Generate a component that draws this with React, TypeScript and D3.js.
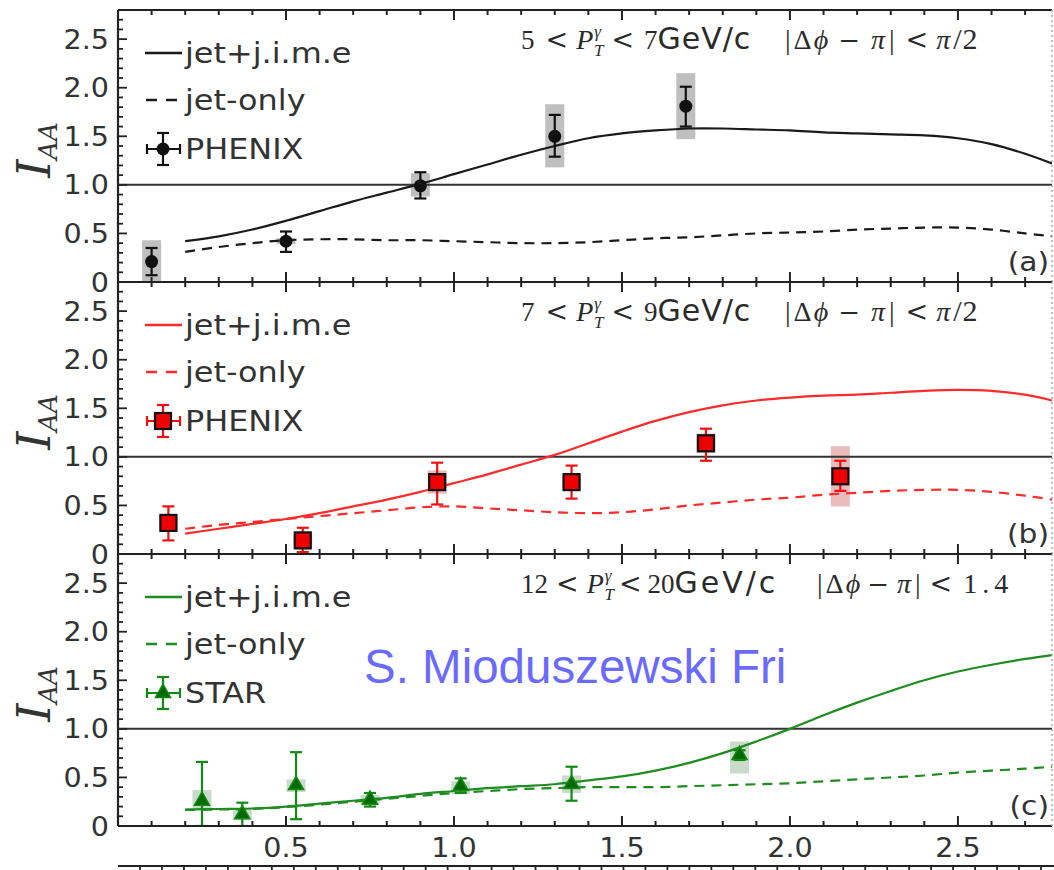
import React, { useEffect, useRef } from 'react';
import * as d3 from 'd3';

// model curves, sampled on a common x grid
const curveX = [0.2, 0.3, 0.4, 0.5, 0.6, 0.7, 0.8, 0.9, 1.0, 1.1, 1.2, 1.3, 1.4, 1.5, 1.6, 1.7, 1.8, 1.9, 2.0, 2.1, 2.2, 2.3, 2.4, 2.5, 2.6, 2.7, 2.78];

const aJime = [0.42, 0.47, 0.54, 0.63, 0.73, 0.83, 0.92, 1.01, 1.11, 1.21, 1.31, 1.40, 1.48, 1.53, 1.56, 1.58, 1.58, 1.57, 1.56, 1.54, 1.53, 1.52, 1.51, 1.48, 1.42, 1.32, 1.22];
const aJetOnly = [0.31, 0.36, 0.40, 0.43, 0.44, 0.44, 0.43, 0.43, 0.42, 0.41, 0.40, 0.40, 0.41, 0.43, 0.45, 0.46, 0.48, 0.50, 0.51, 0.52, 0.54, 0.55, 0.56, 0.56, 0.54, 0.50, 0.47];
const bJime = [0.21, 0.26, 0.31, 0.36, 0.42, 0.49, 0.56, 0.64, 0.73, 0.82, 0.92, 1.02, 1.14, 1.26, 1.37, 1.46, 1.53, 1.58, 1.61, 1.63, 1.64, 1.66, 1.68, 1.69, 1.68, 1.64, 1.58];
const bJetOnly = [0.26, 0.30, 0.33, 0.36, 0.39, 0.42, 0.45, 0.48, 0.49, 0.47, 0.45, 0.43, 0.42, 0.43, 0.46, 0.50, 0.53, 0.56, 0.58, 0.61, 0.63, 0.65, 0.66, 0.66, 0.64, 0.60, 0.56];
const cJime = [0.17, 0.175, 0.18, 0.20, 0.23, 0.26, 0.29, 0.33, 0.36, 0.39, 0.41, 0.43, 0.47, 0.51, 0.57, 0.65, 0.75, 0.87, 1.00, 1.14, 1.27, 1.39, 1.50, 1.59, 1.66, 1.72, 1.76];
const cJetOnly = [0.165, 0.17, 0.175, 0.195, 0.22, 0.25, 0.28, 0.31, 0.34, 0.36, 0.38, 0.39, 0.40, 0.40, 0.40, 0.41, 0.42, 0.43, 0.44, 0.46, 0.48, 0.50, 0.52, 0.55, 0.57, 0.59, 0.61];

// PHENIX 5-7 GeV/c
const aX = [0.10, 0.50, 0.90, 1.30, 1.69];
const aY = [0.21, 0.42, 0.99, 1.50, 1.81];
const aErrLo = [0.07, 0.31, 0.86, 1.29, 1.60];
const aErrHi = [0.35, 0.52, 1.13, 1.72, 2.01];
const aSysLo = [0.0, 0.39, 0.88, 1.18, 1.47];
const aSysHi = [0.43, 0.45, 1.12, 1.83, 2.15];

// PHENIX 7-9 GeV/c
const bX = [0.15, 0.55, 0.95, 1.35, 1.75, 2.15];
const bY = [0.32, 0.14, 0.74, 0.74, 1.14, 0.80];
const bErrLo = [0.14, 0.02, 0.51, 0.57, 0.96, 0.65];
const bErrHi = [0.49, 0.27, 0.94, 0.91, 1.29, 0.96];
const bSysLo = [0.24, 0.08, 0.62, 0.68, 1.04, 0.49];
const bSysHi = [0.40, 0.20, 0.86, 0.80, 1.24, 1.11];

// STAR 12-20 GeV/c
const cX = [0.25, 0.37, 0.53, 0.75, 1.02, 1.35, 1.85];
const cY = [0.26, 0.12, 0.42, 0.27, 0.41, 0.43, 0.73];
const cErrLo = [0.0, 0.0, 0.07, 0.20, 0.34, 0.26, 0.68];
const cErrHi = [0.66, 0.24, 0.76, 0.34, 0.49, 0.61, 0.78];
const cSysLo = [0.16, 0.06, 0.35, 0.22, 0.33, 0.34, 0.54];
const cSysHi = [0.37, 0.18, 0.48, 0.32, 0.46, 0.52, 0.87];

const yTickVals = [0, 0.5, 1.0, 1.5, 2.0, 2.5];
const yTickLabels = ['0', '0.5', '1.0', '1.5', '2.0', '2.5'];
const xTickVals = [0.5, 1.0, 1.5, 2.0, 2.5];
const xTickLabels = ['0.5', '1.0', '1.5', '2.0', '2.5'];

const legendLabels = ['jet+j.i.m.e', 'jet-only'];
const expNames = ['PHENIX', 'PHENIX', 'STAR'];
const panelTags = ['(a)', '(b)', '(c)'];
const ptLo = ['5', '7', '12'];
const ptHi = ['7', '9', '20'];
const dphiCut = ['π/2', 'π/2', '1.4'];
const watermark = 'S. Mioduszewski Fri';

const W = 1054;
const H = 870;
const X0 = 118;
const X1 = 1052;
const panelTops = [10, 282, 554];
const panelH = 272;
const SX = 1.1; // text in the picture is a bit wide
const SERIF = 'Liberation Serif';
const MATH = 'DejaVu Serif';

const panels = [
  { jime: aJime, only: aJetOnly, x: aX, y: aY, lo: aErrLo, hi: aErrHi, sLo: aSysLo, sHi: aSysHi,
    line: '#1a1a1a', err: '#111', fill: '#111', mStroke: '#111', sys: 'rgba(170,170,170,0.75)', marker: 'circle' },
  { jime: bJime, only: bJetOnly, x: bX, y: bY, lo: bErrLo, hi: bErrHi, sLo: bSysLo, sHi: bSysHi,
    line: '#ff2a2a', err: '#f01010', fill: '#ee0000', mStroke: '#111', sys: 'rgba(225,160,160,0.7)', marker: 'square' },
  { jime: cJime, only: cJetOnly, x: cX, y: cY, lo: cErrLo, hi: cErrHi, sLo: cSysLo, sHi: cSysHi,
    line: '#1e8c1e', err: '#138a13', fill: '#006a00', mStroke: '#138a13', sys: 'rgba(190,210,190,0.8)', marker: 'triangle' },
];

const App = () => {
  const ref = useRef<SVGSVGElement>(null);

  useEffect(() => {
    const svg = d3.select(ref.current);
    svg.selectAll('*').remove();

    const x = d3.scaleLinear().domain([0, 2.78]).range([X0, X1]);
    const minorX = d3.range(1, 28).map(i => i / 10);
    const minorY = d3.range(1, 28).map(i => i / 10);
    const isMajor = (v: number) => Math.abs(v * 2 - Math.round(v * 2)) < 1e-6;

    const stretchText = (g: any, px: number, py: number) =>
      g.append('text').attr('transform', `translate(${px},${py}) scale(${SX},1)`);

    const drawMarker = (g: any, kind: string, cx: number, cy: number, p: any) => {
      if (kind === 'circle') {
        g.append('circle').attr('cx', cx).attr('cy', cy).attr('r', 6.5).attr('fill', p.fill);
      } else if (kind === 'square') {
        g.append('rect').attr('x', cx - 8).attr('y', cy - 8).attr('width', 16).attr('height', 16)
          .attr('fill', p.fill).attr('stroke', p.mStroke).attr('stroke-width', 2.2);
      } else {
        g.append('path').attr('transform', `translate(${cx},${cy})`)
          .attr('d', d3.symbol(d3.symbolTriangle, 100)())
          .attr('fill', p.fill).attr('stroke', p.mStroke).attr('stroke-width', 1.5);
      }
    };

    // one piece of the math title
    const addPiece = (t: any, s: string, font: string, size: number, it: boolean, dx = 0, dy = 0) =>
      t.append('tspan').attr('font-family', font).attr('font-size', size)
        .attr('font-style', it ? 'italic' : 'normal').attr('dx', dx).attr('dy', dy).text(s);

    const defs = svg.append('defs');

    panels.forEach((p, i) => {
      const top = panelTops[i];
      const bottom = top + panelH;
      const y = d3.scaleLinear().domain([0, 2.8]).range([bottom, top]);
      const g = svg.append('g');

      defs.append('clipPath').attr('id', `clip${i}`)
        .append('rect').attr('x', X0).attr('y', top).attr('width', X1 - X0).attr('height', panelH);
      const plot = g.append('g').attr('clip-path', `url(#clip${i})`);

      // systematic boxes
      plot.selectAll('rect.sys').data(p.x).enter().append('rect')
        .attr('x', d => x(d) - 9.5).attr('width', 19)
        .attr('y', (d, j) => y(p.sHi[j])).attr('height', (d, j) => y(p.sLo[j]) - y(p.sHi[j]))
        .attr('fill', p.sys);

      // reference line at 1
      plot.append('line').attr('x1', X0).attr('x2', X1).attr('y1', y(1)).attr('y2', y(1))
        .attr('stroke', '#333').attr('stroke-width', 2);

      const line = d3.line<number>().x((d, j) => x(curveX[j])).y(d => y(d)).curve(d3.curveCatmullRom.alpha(0.5));
      plot.append('path').attr('d', line(p.jime)).attr('fill', 'none')
        .attr('stroke', p.line).attr('stroke-width', 2.2);
      plot.append('path').attr('d', line(p.only)).attr('fill', 'none')
        .attr('stroke', p.line).attr('stroke-width', 2.2).attr('stroke-dasharray', '10,7');

      // error bars
      p.x.forEach((xv: number, j: number) => {
        const cx = x(xv);
        const eb = plot.append('g').attr('stroke', p.err).attr('stroke-width', 2.2);
        eb.append('line').attr('x1', cx).attr('x2', cx).attr('y1', y(p.hi[j])).attr('y2', y(p.lo[j]));
        eb.append('line').attr('x1', cx - 6).attr('x2', cx + 6).attr('y1', y(p.hi[j])).attr('y2', y(p.hi[j]));
        eb.append('line').attr('x1', cx - 6).attr('x2', cx + 6).attr('y1', y(p.lo[j])).attr('y2', y(p.lo[j]));
      });
      p.x.forEach((xv: number, j: number) => drawMarker(plot, p.marker, x(xv), y(p.y[j]), p));

      // frame
      g.append('line').attr('x1', X0).attr('x2', X1).attr('y1', top).attr('y2', top)
        .attr('stroke', '#222').attr('stroke-width', 2.2);
      g.append('line').attr('x1', X0).attr('x2', X1).attr('y1', bottom).attr('y2', bottom)
        .attr('stroke', '#222').attr('stroke-width', 2.2);
      g.append('line').attr('x1', X0).attr('x2', X0).attr('y1', top).attr('y2', bottom)
        .attr('stroke', '#222').attr('stroke-width', 2.2);
      g.append('line').attr('x1', X1).attr('x2', X1).attr('y1', top).attr('y2', bottom)
        .attr('stroke', '#aaa').attr('stroke-width', 1.5).attr('stroke-dasharray', '2,3');

      // x ticks (inward, top and bottom)
      minorX.forEach(v => {
        const len = isMajor(v) ? 10 : 5;
        g.append('line').attr('x1', x(v)).attr('x2', x(v)).attr('y1', bottom).attr('y2', bottom - len)
          .attr('stroke', '#222').attr('stroke-width', 2);
        g.append('line').attr('x1', x(v)).attr('x2', x(v)).attr('y1', top).attr('y2', top + len)
          .attr('stroke', '#222').attr('stroke-width', 2);
      });
      // y ticks
      minorY.forEach(v => {
        const len = isMajor(v) ? 9 : 5;
        g.append('line').attr('x1', X0).attr('x2', X0 + len).attr('y1', y(v)).attr('y2', y(v))
          .attr('stroke', '#222').attr('stroke-width', 1.8);
      });
      yTickVals.forEach((v, j) => {
        stretchText(g, 109, y(v) + 9.5)
          .attr('text-anchor', 'end').attr('font-family', 'DejaVu Sans').attr('font-size', 26)
          .attr('fill', '#333').text(yTickLabels[j]);
      });

      // y label I_AA
      const yl = g.append('text').attr('transform', `translate(50,${top + 140}) rotate(-90)`)
        .attr('text-anchor', 'middle').attr('font-family', 'DejaVu Serif').attr('font-style', 'italic').attr('fill', '#333');
      yl.append('tspan').attr('font-size', 46).text('I');
      yl.append('tspan').attr('font-size', 26).attr('dy', 7).text('AA');

      // title, left part: pT range
      const wide = ptLo[i].length > 1;
      const tl = g.append('text').attr('x', 521).attr('y', top + 39).attr('fill', '#2a2a2a');
      addPiece(tl, ptLo[i], SERIF, 27, false);
      addPiece(tl, '<', MATH, 27, false, wide ? 8 : 11);
      addPiece(tl, 'P', SERIF, 28, true, 8);
      addPiece(tl, 'γ', SERIF, 17, true, 1, -12);
      addPiece(tl, 'T', SERIF, 17, true, -7, 19);
      addPiece(tl, '<', MATH, 27, false, wide ? 5 : 8, -7);
      addPiece(tl, ptHi[i], SERIF, 27, false, wide ? 6 : 10);
      addPiece(tl, 'GeV/c', 'DejaVu Sans', 30, false, 0).attr('letter-spacing', wide ? 3 : 1);

      // title, right part: azimuthal cut
      const tr = g.append('text').attr('x', wide ? 817 : 785).attr('y', top + 39).attr('fill', '#2a2a2a');
      addPiece(tr, '|', SERIF, 28, false);
      addPiece(tr, 'Δ', SERIF, 28, false, 3);
      addPiece(tr, 'ϕ', SERIF, 28, true, 2);
      addPiece(tr, '−', MATH, 26, false, wide ? 7 : 10);
      addPiece(tr, 'π', SERIF, 28, true, wide ? 8 : 11);
      addPiece(tr, '|', SERIF, 28, false, 4);
      addPiece(tr, '<', MATH, 27, false, wide ? 9 : 11);
      if (dphiCut[i] === 'π/2') {
        addPiece(tr, 'π', SERIF, 28, true, 8);
        addPiece(tr, '/', SERIF, 30, false, 3);
        addPiece(tr, '2', SERIF, 30, false, 1);
      } else {
        addPiece(tr, dphiCut[i], SERIF, 28, false, 11).attr('letter-spacing', 5);
      }

      // panel tag
      stretchText(g, 1049, bottom - 11)
        .attr('text-anchor', 'end').attr('font-family', 'DejaVu Sans').attr('font-size', 27)
        .attr('fill', '#333').text(panelTags[i]);

      // legend
      const rows = [top + 43, top + 90, top + 139];
      g.append('line').attr('x1', 145).attr('x2', 182).attr('y1', rows[0]).attr('y2', rows[0])
        .attr('stroke', p.line).attr('stroke-width', 2.5);
      g.append('line').attr('x1', 146).attr('x2', 182).attr('y1', rows[1]).attr('y2', rows[1])
        .attr('stroke', p.line).attr('stroke-width', 2.5).attr('stroke-dasharray', '11,9');
      const lm = g.append('g').attr('stroke', p.err).attr('stroke-width', 2.2);
      lm.append('line').attr('x1', 147).attr('x2', 180).attr('y1', rows[2]).attr('y2', rows[2]);
      lm.append('line').attr('x1', 147).attr('x2', 147).attr('y1', rows[2] - 5).attr('y2', rows[2] + 5);
      lm.append('line').attr('x1', 180).attr('x2', 180).attr('y1', rows[2] - 5).attr('y2', rows[2] + 5);
      lm.append('line').attr('x1', 163).attr('x2', 163).attr('y1', rows[2] - 16).attr('y2', rows[2] + 16);
      lm.append('line').attr('x1', 157).attr('x2', 169).attr('y1', rows[2] - 16).attr('y2', rows[2] - 16);
      lm.append('line').attr('x1', 157).attr('x2', 169).attr('y1', rows[2] + 16).attr('y2', rows[2] + 16);
      drawMarker(g, p.marker, 163, rows[2], p);

      [legendLabels[0], legendLabels[1], expNames[i]].forEach((t, j) => {
        stretchText(g, 185, rows[j] + 10)
          .attr('font-family', 'DejaVu Sans').attr('font-size', 29).attr('fill', '#333').text(t);
      });
    });

    // x tick labels under the last panel
    xTickVals.forEach((v, j) => {
      stretchText(svg, x(v), 857)
        .attr('text-anchor', 'middle').attr('font-family', 'DejaVu Sans').attr('font-size', 26)
        .attr('fill', '#333').text(xTickLabels[j]);
    });

    // top edge of the next (cropped) figure
    const xNext = d3.scaleLinear().domain([0, 4.25]).range([X0, X1]);
    svg.append('line').attr('x1', X0).attr('x2', W).attr('y1', 866).attr('y2', 866)
      .attr('stroke', '#222').attr('stroke-width', 2.2);
    d3.range(1, 43).map(k => k / 10).forEach(v => {
      svg.append('line').attr('x1', xNext(v)).attr('x2', xNext(v)).attr('y1', 866)
        .attr('y2', 866 + (isMajor(v) ? 8 : 4)).attr('stroke', '#222').attr('stroke-width', 1.8);
    });

    // overlay text
    svg.append('text').attr('x', 364).attr('y', 683).attr('font-family', 'Liberation Sans')
      .attr('font-size', 47.5).attr('fill', '#6a6aff').text(watermark);
  }, []);

  return (
    <svg ref={ref} width={W} height={H}
      style={{ position: 'absolute', left: 0, top: 0, background: '#fff' }} />
  );
};

export default App;
